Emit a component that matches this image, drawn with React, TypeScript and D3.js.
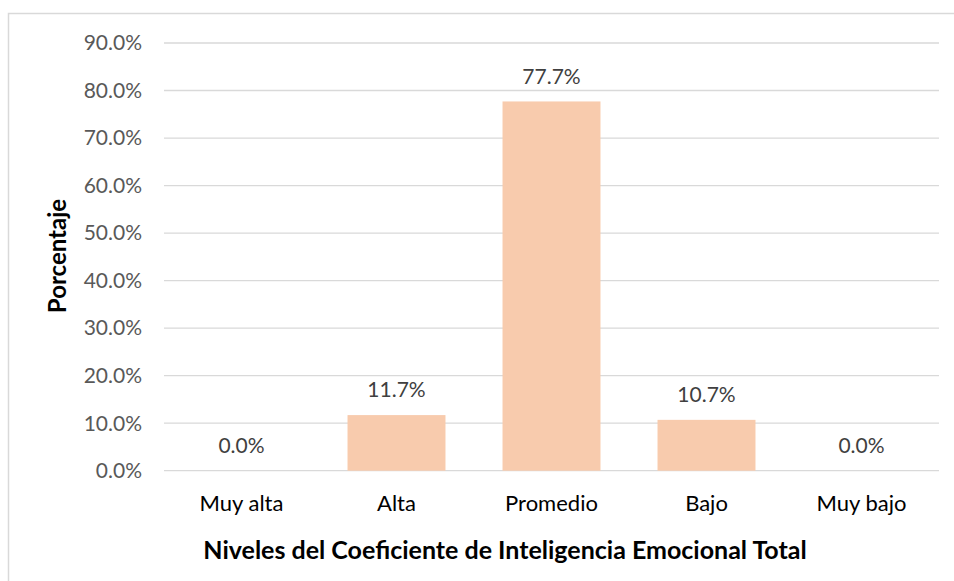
import { useEffect, useRef } from "react";
import * as d3 from "d3";

const categories = ["Muy alta", "Alta", "Promedio", "Bajo", "Muy bajo"];
const values = [0.0, 11.7, 77.7, 10.7, 0.0];
const yTicks = [0, 10, 20, 30, 40, 50, 60, 70, 80, 90];

const FONT = "Lato, 'Open Sans', sans-serif";

const App = () => {
  const svgRef = useRef<SVGSVGElement>(null);

  useEffect(() => {
    const svg = d3.select(svgRef.current);
    svg.selectAll("*").remove();

    const left = 164;
    const right = 939;
    const top = 43;
    const bottom = 470.7;

    const x = d3
      .scaleBand()
      .domain(categories)
      .range([left, right])
      .paddingInner(0.368)
      .paddingOuter(0.184);

    const y = d3.scaleLinear().domain([0, 90]).range([bottom, top]);

    // chart border
    svg
      .append("rect")
      .attr("x", 8.5)
      .attr("y", 13.5)
      .attr("width", 1000)
      .attr("height", 700)
      .attr("fill", "#fff")
      .attr("stroke", "#d9d9d9")
      .attr("stroke-width", 1.5);

    const grid = svg.append("g");
    grid
      .selectAll("line")
      .data(yTicks)
      .enter()
      .append("line")
      .attr("x1", left)
      .attr("x2", right)
      .attr("y1", (d) => y(d))
      .attr("y2", (d) => y(d))
      .attr("stroke", "#d9d9d9")
      .attr("stroke-width", 1.3);

    svg
      .append("g")
      .selectAll("text")
      .data(yTicks)
      .enter()
      .append("text")
      .attr("x", 142)
      .attr("y", (d) => y(d))
      .attr("dy", "0.35em")
      .attr("text-anchor", "end")
      .attr("font-family", FONT)
      .attr("font-size", 21)
      .attr("fill", "#595959")
      .text((d) => d.toFixed(1) + "%");

    svg
      .append("g")
      .selectAll("rect")
      .data(values)
      .enter()
      .append("rect")
      .attr("x", (d, i) => x(categories[i])!)
      .attr("y", (d) => y(d))
      .attr("width", x.bandwidth())
      .attr("height", (d) => bottom - y(d))
      .attr("fill", "#f8cbad");

    svg
      .append("g")
      .selectAll("text")
      .data(values)
      .enter()
      .append("text")
      .attr("x", (d, i) => x(categories[i])! + x.bandwidth() / 2)
      .attr("y", (d) => y(d) - 25)
      .attr("dy", "0.35em")
      .attr("text-anchor", "middle")
      .attr("font-family", FONT)
      .attr("font-size", 21)
      .attr("fill", "#404040")
      .text((d) => d.toFixed(1) + "%");

    svg
      .append("g")
      .selectAll("text")
      .data(categories)
      .enter()
      .append("text")
      .attr("x", (d) => x(d)! + x.bandwidth() / 2)
      .attr("y", 503)
      .attr("dy", "0.35em")
      .attr("text-anchor", "middle")
      .attr("font-family", FONT)
      .attr("font-size", 22)
      .attr("fill", "#000")
      .text((d) => d);

    svg
      .append("text")
      .attr("x", 505)
      .attr("y", 550)
      .attr("dy", "0.35em")
      .attr("text-anchor", "middle")
      .attr("font-family", FONT)
      .attr("font-size", 25)
      .attr("font-weight", "bold")
      .attr("fill", "#000")
      .text("Niveles del Coeficiente de Inteligencia Emocional Total");

    svg
      .append("text")
      .attr("transform", `translate(58,256) rotate(-90)`)
      .attr("dy", "0.35em")
      .attr("text-anchor", "middle")
      .attr("font-family", FONT)
      .attr("font-size", 24)
      .attr("font-weight", "bold")
      .attr("fill", "#000")
      .text("Porcentaje");
  }, []);

  return (
    <svg
      ref={svgRef}
      width={954}
      height={581}
      style={{ position: "absolute", left: 0, top: 0, background: "#fff" }}
    />
  );
};

export default App;
